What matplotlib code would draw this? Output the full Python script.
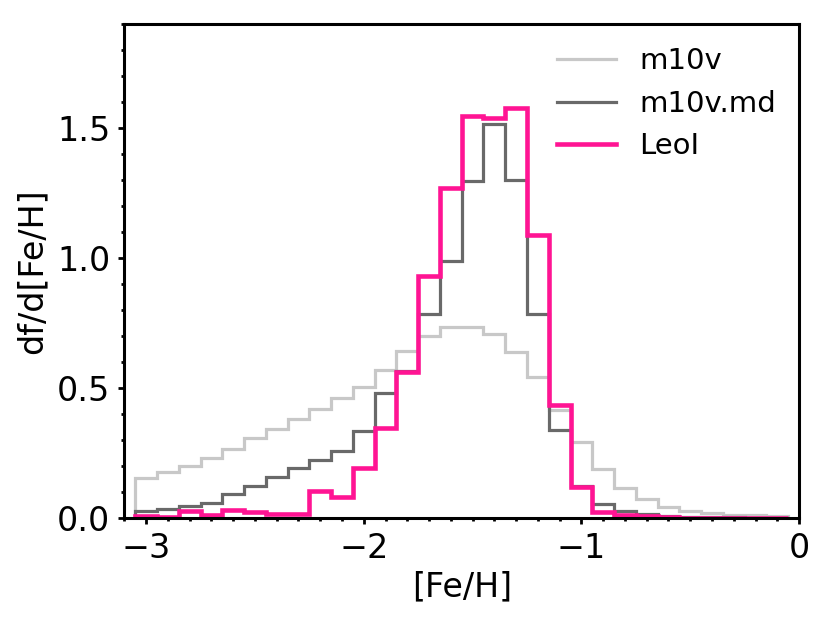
import numpy as np
import matplotlib
matplotlib.use("Agg")
import matplotlib.pyplot as plt

# bin edges of the [Fe/H] histograms (width 0.1)
edges = np.linspace(-3.05, -0.05, 31)

m10v = [0.153, 0.176, 0.199, 0.228, 0.266, 0.307, 0.343, 0.381, 0.419, 0.461,
        0.503, 0.570, 0.640, 0.700, 0.732, 0.732, 0.707, 0.637, 0.541, 0.413,
        0.290, 0.189, 0.116, 0.072, 0.040, 0.026, 0.017, 0.012, 0.009, 0.006]

m10v_md = [0.026, 0.035, 0.045, 0.058, 0.090, 0.122, 0.157, 0.192, 0.224, 0.255,
           0.334, 0.481, 0.565, 0.785, 0.988, 1.295, 1.515, 1.301, 0.784, 0.336,
           0.123, 0.051, 0.027, 0.013, 0.008, 0.004, 0.002, 0.001, 0.0, 0.0]

leoI = [0.008, 0.004, 0.025, 0.010, 0.030, 0.023, 0.013, 0.015, 0.104, 0.078,
        0.193, 0.345, 0.560, 0.931, 1.269, 1.544, 1.540, 1.576, 1.088, 0.435,
        0.117, 0.023, 0.010, 0.006, 0.003, 0.0, 0.0, 0.0, 0.0, 0.0]

labels = ["m10v", "m10v.md", "LeoI"]

plt.rcParams['font.family'] = ['DejaVu Sans']
fig = plt.figure(figsize=(8.3, 6.23), dpi=100)
ax = fig.add_axes([0.1498, 0.169, 0.8129, 0.7925])

ax.stairs(m10v, edges, baseline=0, color='#c8c8c8', lw=2.3, label=labels[0])
ax.stairs(m10v_md, edges, baseline=0, color='#696969', lw=2.3, label=labels[1])
ax.stairs(leoI, edges, baseline=0, color='#ff1493', lw=3.3, label=labels[2])

ax.set_xlim(-3.1, 0)
ax.set_ylim(0, 1.9)
ax.set_xticks([-3, -2, -1, 0])
ax.set_yticks([0.0, 0.5, 1.0, 1.5])
ax.set_xticks(np.arange(-3.1, 0.001, 0.1), minor=True)
ax.set_yticks(np.arange(0, 1.901, 0.1), minor=True)
ax.tick_params(which='major', direction='out', length=4, width=2, labelsize=24, pad=6,
               top=False, right=False)
ax.tick_params(which='minor', direction='out', length=2.5, width=2, top=False, right=False)
for s in ax.spines.values():
    s.set_linewidth(2.2)

ax.set_xlabel("[Fe/H]", fontsize=24, labelpad=4)
ax.set_ylabel("df/d[Fe/H]", fontsize=24, labelpad=6)
ax.legend(loc='upper right', frameon=False, fontsize=21, handlelength=2.0,
          borderaxespad=0.4)

fig.savefig("out.png", dpi=100)
